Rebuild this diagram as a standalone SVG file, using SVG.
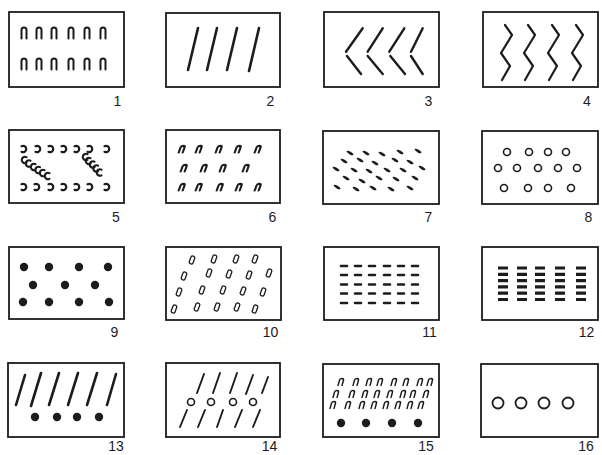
<svg xmlns="http://www.w3.org/2000/svg" width="602" height="455" viewBox="0 0 602 455">
<style>
.box{fill:none;stroke:#1c1c1c;stroke-width:1.8}
.lbl{font-family:"Liberation Sans",Arial,sans-serif;font-size:14px;fill:#1c1c1c;text-anchor:middle}
.s{fill:none;stroke:#1c1c1c;stroke-linecap:round;stroke-linejoin:round}
.f{fill:#1c1c1c}
</style>
<defs>
<path id="a1" class="s" style="stroke-width:2" d="M-2.5,5.5 V-3 A2.5,2.5 0 0 1 2.5,-3 V5.5"/>
<path id="a6" class="s" style="stroke-width:2.2" d="M-2,3.5 V-1.2 A2,2 0 0 1 2,-1.2 V3.5" transform="skewX(-20)"/>
<path id="a15" class="s" style="stroke-width:1.5" d="M-2,3.5 V-1.5 A2,2 0 0 1 2,-1.5 V3.5" transform="skewX(-15)"/>
<path id="cl" class="s" style="stroke-width:2.2" d="M-1.5,-2.8 A3.2,3.2 0 1 1 -1.5,2.8"/>
<path id="cr" class="s" style="stroke-width:2.1" d="M1.5,-2.8 A3.2,3.2 0 1 0 1.5,2.8"/>
<rect id="q" class="s" style="stroke-width:1.3" x="-2" y="-4" width="4" height="8" rx="1.5" transform="rotate(20)"/>
<ellipse id="d7" class="f" rx="3.8" ry="1.3" transform="rotate(30)"/>
<circle id="o8" class="s" style="stroke-width:1.6" r="3.5"/>
<circle id="dot" class="f" r="4.2"/>
</defs>
<rect width="602" height="455" fill="#fff"/>

<g id="p1">
<rect class="box" x="9" y="12" width="115" height="75"/>
<use href="#a1" x="24" y="33"/><use href="#a1" x="39" y="33"/><use href="#a1" x="54" y="33"/><use href="#a1" x="71" y="33"/><use href="#a1" x="87" y="33"/><use href="#a1" x="103" y="33"/>
<use href="#a1" x="24" y="64"/><use href="#a1" x="39" y="64"/><use href="#a1" x="54" y="64"/><use href="#a1" x="71" y="64"/><use href="#a1" x="87" y="64"/><use href="#a1" x="103" y="64"/>
<text class="lbl" x="117.5" y="106">1</text>
</g>

<g id="p2">
<rect class="box" x="166" y="13" width="114" height="74"/>
<g class="s" style="stroke-width:2.6">
<line x1="198" y1="28" x2="188" y2="70"/><line x1="217" y1="28" x2="207" y2="70"/><line x1="237" y1="28" x2="227" y2="70"/><line x1="259" y1="28" x2="249" y2="71"/>
</g>
<text class="lbl" x="270.5" y="106">2</text>
</g>

<g id="p3">
<rect class="box" x="324" y="12" width="115" height="75"/>
<g class="s" style="stroke-width:2.4">
<line x1="362.7" y1="28.3" x2="346" y2="51.7"/><line x1="347" y1="56" x2="361" y2="74"/>
<line x1="382.7" y1="28.3" x2="367.7" y2="51.7"/><line x1="367.7" y1="56" x2="382.7" y2="74"/>
<line x1="404.3" y1="28.3" x2="389.3" y2="51.7"/><line x1="390.3" y1="56" x2="405" y2="74"/>
<line x1="422.7" y1="28.3" x2="411" y2="51.7"/><line x1="411" y1="56" x2="422.7" y2="74"/>
</g>
<text class="lbl" x="428.5" y="106">3</text>
</g>

<g id="p4">
<rect class="box" x="483" y="12" width="115" height="75"/>
<g class="s" style="stroke-width:2.2">
<polyline points="505,25 512,35 501,53 510,66 502,80"/>
<polyline points="528,25 535,35 524,53 533,66 525,80"/>
<polyline points="552,25 559,35 548,53 557,66 549,80"/>
<polyline points="576,25 583,35 572,53 581,66 573,80"/>
</g>
<text class="lbl" x="587" y="106">4</text>
</g>

<g id="p5">
<rect class="box" x="9" y="130" width="115" height="73"/>
<use href="#cl" x="23" y="149"/><use href="#cl" x="37" y="149"/><use href="#cl" x="50" y="149"/><use href="#cl" x="63" y="149"/><use href="#cl" x="76" y="149"/><use href="#cl" x="89" y="149"/><use href="#cl" x="106" y="149"/>
<use href="#cl" x="23" y="187"/><use href="#cl" x="36" y="187"/><use href="#cl" x="50" y="187"/><use href="#cl" x="63" y="187"/><use href="#cl" x="76" y="187"/><use href="#cl" x="89" y="187"/><use href="#cl" x="106" y="187"/>
<use href="#cr" x="25" y="160"/><use href="#cr" x="29" y="163.5"/><use href="#cr" x="34" y="167"/><use href="#cr" x="38.5" y="170"/><use href="#cr" x="43" y="173"/><use href="#cr" x="48" y="176"/>
<use href="#cr" x="86" y="157"/><use href="#cr" x="89" y="161"/><use href="#cr" x="93" y="164.5"/><use href="#cr" x="96.5" y="168.5"/><use href="#cr" x="100" y="172.5"/>
<text class="lbl" x="116" y="222">5</text>
</g>

<g id="p6">
<rect class="box" x="166" y="130" width="114" height="73"/>
<use href="#a6" x="182" y="149"/><use href="#a6" x="199" y="149"/><use href="#a6" x="219" y="149"/><use href="#a6" x="238" y="149"/><use href="#a6" x="258" y="149"/>
<use href="#a6" x="184" y="168"/><use href="#a6" x="204" y="168"/><use href="#a6" x="223" y="168"/><use href="#a6" x="246" y="168"/>
<use href="#a6" x="182" y="187"/><use href="#a6" x="199" y="187"/><use href="#a6" x="220" y="187"/><use href="#a6" x="239" y="187"/><use href="#a6" x="258" y="187"/>
<text class="lbl" x="272.5" y="222">6</text>
</g>

<g id="p7">
<rect class="box" x="323" y="131" width="116" height="73"/>
<use href="#d7" x="350" y="153"/><use href="#d7" x="366" y="153"/><use href="#d7" x="382" y="154"/><use href="#d7" x="400" y="152"/><use href="#d7" x="418" y="151"/>
<use href="#d7" x="344" y="161"/><use href="#d7" x="360" y="160"/><use href="#d7" x="375" y="163"/><use href="#d7" x="395" y="160"/><use href="#d7" x="410" y="162"/>
<use href="#d7" x="336" y="169"/><use href="#d7" x="354" y="170"/><use href="#d7" x="369" y="171"/><use href="#d7" x="387" y="170"/><use href="#d7" x="403" y="170"/><use href="#d7" x="422" y="168"/>
<use href="#d7" x="346" y="178"/><use href="#d7" x="362" y="181"/><use href="#d7" x="379" y="178"/><use href="#d7" x="396" y="179"/><use href="#d7" x="415" y="178"/>
<use href="#d7" x="337" y="187"/><use href="#d7" x="356" y="189"/><use href="#d7" x="373" y="188"/><use href="#d7" x="391" y="189"/><use href="#d7" x="410" y="188"/>
<text class="lbl" x="428.5" y="222">7</text>
</g>

<g id="p8">
<rect class="box" x="482" y="131" width="116" height="73"/>
<use href="#o8" x="507" y="152"/><use href="#o8" x="529" y="152"/><use href="#o8" x="548" y="152"/><use href="#o8" x="566" y="152"/>
<use href="#o8" x="498" y="168"/><use href="#o8" x="517" y="168"/><use href="#o8" x="538" y="168"/><use href="#o8" x="558" y="168"/><use href="#o8" x="577" y="168"/>
<use href="#o8" x="504" y="188"/><use href="#o8" x="528" y="188"/><use href="#o8" x="548" y="188"/><use href="#o8" x="571" y="188"/>
<text class="lbl" x="588.5" y="222">8</text>
</g>

<g id="p9">
<rect class="box" x="9" y="247" width="115" height="72"/>
<use href="#dot" x="24" y="267"/><use href="#dot" x="49" y="267"/><use href="#dot" x="79" y="267"/><use href="#dot" x="108" y="267"/>
<use href="#dot" x="33" y="285"/><use href="#dot" x="65" y="285"/><use href="#dot" x="95" y="285"/>
<use href="#dot" x="23" y="302"/><use href="#dot" x="49" y="302"/><use href="#dot" x="79" y="302"/><use href="#dot" x="109" y="302"/>
<text class="lbl" x="114.5" y="337">9</text>
</g>

<g id="p10">
<rect class="box" x="166" y="247" width="115" height="73"/>
<use href="#q" x="192" y="260"/><use href="#q" x="214" y="259"/><use href="#q" x="236" y="259"/><use href="#q" x="255" y="259"/>
<use href="#q" x="184" y="276"/><use href="#q" x="209" y="273"/><use href="#q" x="229" y="274"/><use href="#q" x="249" y="275"/><use href="#q" x="269" y="273"/>
<use href="#q" x="179" y="292"/><use href="#q" x="202" y="290"/><use href="#q" x="223" y="290"/><use href="#q" x="243" y="291"/><use href="#q" x="263" y="292"/>
<use href="#q" x="174" y="309"/><use href="#q" x="197" y="307"/><use href="#q" x="217" y="307"/><use href="#q" x="237" y="307"/><use href="#q" x="255" y="309"/>
<text class="lbl" x="270.5" y="337">10</text>
</g>

<g id="p11">
<rect class="box" x="324" y="247" width="115" height="73"/>
<g class="s" style="stroke-width:2.6">
<path d="M341,266h6M355,266h6M369,266h6M384,266h6M398,266h6M412,266h6"/>
<path d="M341,275h6M355,275h6M369,275h6M384,275h6M398,275h6M412,275h6"/>
<path d="M341,284.5h6M355,284.5h6M369,284.5h6M384,284.5h6M398,284.5h6M412,284.5h6"/>
<path d="M341,293.5h6M355,293.5h6M369,293.5h6M384,293.5h6M398,293.5h6M412,293.5h6"/>
<path d="M341,303h6M355,303h6M369,303h6M384,303h6M398,303h6M412,303h6"/>
</g>
<text class="lbl" x="429.5" y="337">11</text>
</g>

<g id="p12">
<rect class="box" x="482" y="247" width="116" height="73"/>
<g class="s" style="stroke-width:3.2;stroke-linecap:butt">
<path d="M498,268h10M517,268h10M535,268h10M555,268h10M576,268h10"/>
<path d="M498,274.3h10M517,274.3h10M535,274.3h10M555,274.3h10M576,274.3h10"/>
<path d="M498,280.6h10M517,280.6h10M535,280.6h10M555,280.6h10M576,280.6h10"/>
<path d="M498,286.9h10M517,286.9h10M535,286.9h10M555,286.9h10M576,286.9h10"/>
<path d="M498,293.2h10M517,293.2h10M535,293.2h10M555,293.2h10M576,293.2h10"/>
<path d="M498,299.5h10M517,299.5h10M535,299.5h10M555,299.5h10M576,299.5h10"/>
</g>
<text class="lbl" x="586.5" y="337">12</text>
</g>

<g id="p13">
<rect class="box" x="8" y="363" width="116" height="74"/>
<g class="s" style="stroke-width:2.6">
<line x1="25" y1="375" x2="16" y2="405"/><line x1="41" y1="373" x2="31" y2="406"/><line x1="59" y1="373" x2="49" y2="405"/><line x1="78" y1="373" x2="68" y2="405"/><line x1="97" y1="373" x2="87" y2="405"/><line x1="116" y1="374" x2="107" y2="405"/>
</g>
<use href="#dot" x="35" y="417"/><use href="#dot" x="57" y="417"/><use href="#dot" x="77" y="417"/><use href="#dot" x="99" y="417"/>
<text class="lbl" x="116" y="451">13</text>
</g>

<g id="p14">
<rect class="box" x="166" y="363" width="114" height="74"/>
<g class="s" style="stroke-width:1.9">
<line x1="204" y1="374" x2="197" y2="393"/><line x1="220" y1="373" x2="213" y2="393"/><line x1="237" y1="373" x2="230" y2="393"/><line x1="253" y1="375" x2="246" y2="394"/><line x1="268" y1="377" x2="262" y2="393"/>
<line x1="187" y1="410" x2="180" y2="427"/><line x1="205" y1="410" x2="198" y2="427"/><line x1="223" y1="410" x2="217" y2="427"/><line x1="242" y1="410" x2="235" y2="427"/><line x1="260" y1="410" x2="253" y2="427"/>
</g>
<use href="#o8" x="191" y="402"/><use href="#o8" x="211" y="402"/><use href="#o8" x="233" y="402"/><use href="#o8" x="253" y="402"/>
<text class="lbl" x="269.5" y="451">14</text>
</g>

<g id="p15">
<rect class="box" x="323" y="364" width="116" height="73"/>
<use href="#a15" x="341" y="382"/><use href="#a15" x="356" y="382"/><use href="#a15" x="369" y="382"/><use href="#a15" x="380" y="382"/><use href="#a15" x="394" y="382"/><use href="#a15" x="406" y="382"/><use href="#a15" x="420" y="382"/><use href="#a15" x="430" y="382"/>
<use href="#a15" x="336" y="394"/><use href="#a15" x="352" y="394"/><use href="#a15" x="365" y="394"/><use href="#a15" x="377" y="394"/><use href="#a15" x="390" y="394"/><use href="#a15" x="403" y="394"/><use href="#a15" x="413" y="394"/><use href="#a15" x="426" y="394"/>
<use href="#a15" x="333" y="405"/><use href="#a15" x="348" y="405"/><use href="#a15" x="362" y="405"/><use href="#a15" x="374" y="405"/><use href="#a15" x="386" y="405"/><use href="#a15" x="398" y="405"/><use href="#a15" x="410" y="405"/><use href="#a15" x="421" y="405"/>
<use href="#dot" x="341" y="423"/><use href="#dot" x="366" y="423"/><use href="#dot" x="392" y="423"/><use href="#dot" x="418" y="423"/>
<text class="lbl" x="426" y="451">15</text>
</g>

<g id="p16">
<rect class="box" x="481" y="364" width="117" height="73"/>
<g class="s" style="stroke-width:1.8">
<circle cx="498" cy="403" r="5.5"/><circle cx="521" cy="403" r="5.5"/><circle cx="544" cy="403" r="5.5"/><circle cx="568" cy="403" r="5.5"/>
</g>
<text class="lbl" x="586" y="451">16</text>
</g>
</svg>
